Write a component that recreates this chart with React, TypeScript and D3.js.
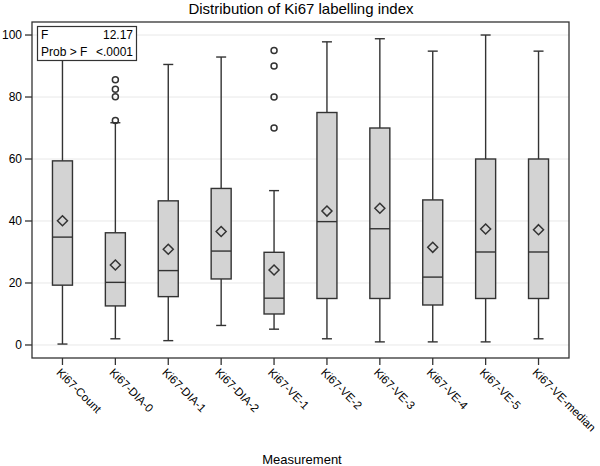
import React from "react";
import * as d3 from "d3";

const categories = [
  "Ki67-Count", "Ki67-DIA-0", "Ki67-DIA-1", "Ki67-DIA-2", "Ki67-VE-1",
  "Ki67-VE-2", "Ki67-VE-3", "Ki67-VE-4", "Ki67-VE-5", "Ki67-VE-median",
];
const whiskerLow = [0.3, 2.0, 1.4, 6.3, 5.1, 2.0, 1.0, 1.0, 1.0, 2.0];
const q1 = [19.3, 12.6, 15.6, 21.3, 10.0, 15.0, 15.0, 12.9, 15.0, 15.0];
const median = [34.8, 20.2, 24.0, 30.3, 15.1, 39.8, 37.5, 21.9, 30.0, 30.0];
const q3 = [59.4, 36.2, 46.5, 50.5, 29.9, 75.0, 70.0, 46.8, 60.0, 60.0];
const whiskerHigh = [100, 71.7, 90.5, 92.9, 49.8, 97.8, 98.8, 94.8, 100, 94.8];
const means = [40.1, 25.8, 30.9, 36.6, 24.2, 43.2, 44.1, 31.5, 37.4, 37.2];
const outliers: number[][] = [
  [], [72.4, 80.1, 82.5, 85.6], [], [], [70, 80, 90, 95], [], [], [], [], [],
];
const yTicks = [0, 20, 40, 60, 80, 100];
const title = "Distribution of Ki67 labelling index";
const xTitle = "Measurement";
const statRows = [["F", "12.17"], ["Prob > F", "<.0001"]];

const W = 600, H = 466;
const L = 32, R = 569, T = 22, B = 358;
const ink = "#333";
const font = "'Liberation Sans', Arial, sans-serif";

export default function App() {
  const x = d3.scalePoint<string>().domain(categories).range([L, R]).padding(0.576);
  const y = d3.scaleLinear().domain([-4.2, 104.2]).range([B, T]);
  const bw = 10, cw = 5, dm = 5;

  return (
    <svg width={W} height={H} style={{ position: "absolute", left: 0, top: 0, background: "#fff" }} fontFamily={font}>
      <rect x={0} y={0} width={W} height={H} fill="#fff" />
      <text x={301} y={14} textAnchor="middle" fontSize={15} fill="#000">{title}</text>
      {yTicks.map((t) => (
        <line key={"g" + t} x1={L} x2={R} y1={y(t)} y2={y(t)} stroke="#e8e8e8" strokeWidth={1} />
      ))}
      {categories.map((c, i) => {
        const cx = x(c)!;
        return (
          <g key={c} stroke={ink} strokeWidth={1.4}>
            <line x1={cx} x2={cx} y1={y(whiskerLow[i])} y2={y(q1[i])} />
            <line x1={cx} x2={cx} y1={y(q3[i])} y2={y(whiskerHigh[i])} />
            <line x1={cx - cw} x2={cx + cw} y1={y(whiskerLow[i])} y2={y(whiskerLow[i])} />
            <line x1={cx - cw} x2={cx + cw} y1={y(whiskerHigh[i])} y2={y(whiskerHigh[i])} />
            <rect x={cx - bw} width={2 * bw} y={y(q3[i])} height={y(q1[i]) - y(q3[i])} fill="#d3d3d3" />
            <line x1={cx - bw} x2={cx + bw} y1={y(median[i])} y2={y(median[i])} />
            <path
              d={`M${cx},${y(means[i]) - dm}L${cx + dm},${y(means[i])}L${cx},${y(means[i]) + dm}L${cx - dm},${y(means[i])}Z`}
              fill="none"
              strokeWidth={1.5}
            />
            {outliers[i].map((o, j) => (
              <circle key={j} cx={cx} cy={y(o)} r={3} fill="none" strokeWidth={1.5} />
            ))}
          </g>
        );
      })}
      {/* inset stats box */}
      <g>
        <rect x={37.5} y={26.5} width={99} height={34} fill="#fff" stroke={ink} strokeWidth={1.2} />
        {statRows.map((r, i) => (
          <g key={i} fontSize={12} fill="#000">
            <text x={41} y={39 + i * 17}>{r[0]}</text>
            <text x={133} y={39 + i * 17} textAnchor="end">{r[1]}</text>
          </g>
        ))}
      </g>
      <rect x={L} y={T} width={R - L} height={B - T} fill="none" stroke={ink} strokeWidth={1.3} />
      {yTicks.map((t) => (
        <g key={"y" + t}>
          <line x1={L - 7} x2={L} y1={y(t)} y2={y(t)} stroke={ink} strokeWidth={1.3} />
          <text x={L - 10} y={y(t) + 4} textAnchor="end" fontSize={12} fill="#000">{t}</text>
        </g>
      ))}
      {categories.map((c) => (
        <g key={"x" + c} transform={`translate(${x(c)},${B})`}>
          <line y1={0} y2={7} stroke={ink} strokeWidth={1.3} />
          <text transform="translate(0,7) rotate(45)" x={1} y={10.5} fontSize={11.5} fill="#000">{c}</text>
        </g>
      ))}
      <text x={302} y={464} textAnchor="middle" fontSize={13} fill="#000">{xTitle}</text>
    </svg>
  );
}
